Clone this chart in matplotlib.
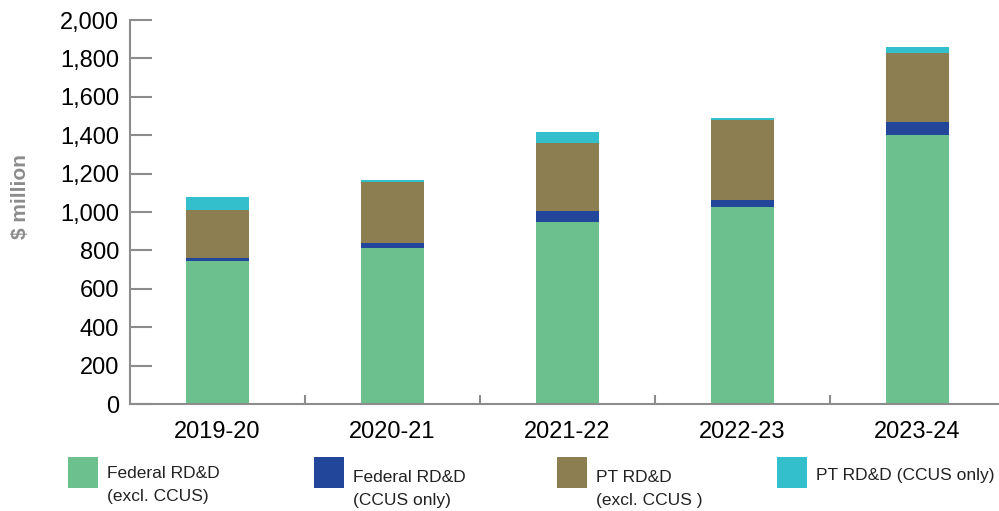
import numpy as np
import matplotlib
matplotlib.use("Agg")
import matplotlib.pyplot as plt
from matplotlib.patches import Rectangle

plt.rcParams['font.family'] = ['Liberation Sans Narrow', 'Liberation Sans', 'DejaVu Sans']

years = ["2019-20", "2020-21", "2021-22", "2022-23", "2023-24"]
federal_excl = [745, 812, 948, 1026, 1401]
federal_ccus = [15, 27, 57, 36, 68]
pt_excl = [250, 317, 354, 417, 359]
pt_ccus = [68, 11, 58, 11, 31]

series = [
    ("Federal RD&D\n(excl. CCUS)", federal_excl, "#6cc08e"),
    ("Federal RD&D\n(CCUS only)", federal_ccus, "#21469a"),
    ("PT RD&D\n(excl. CCUS )", pt_excl, "#8d7e52"),
    ("PT RD&D (CCUS only)", pt_ccus, "#33bfcc"),
]

axis_grey = "#8c8c8c"

fig = plt.figure(figsize=(9.99, 5.11), dpi=100)
ax = fig.add_axes([130 / 999, 107 / 511, 869 / 999, 384 / 511])

x = np.arange(len(years))
bottom = np.zeros(len(years))
for label, vals, color in series:
    ax.bar(x, vals, width=0.36, bottom=bottom, color=color, linewidth=0, zorder=2)
    bottom += np.array(vals)

ax.set_xlim(-0.5, 4.5 - 6 / 175)
ax.set_ylim(0, 2000)
ax.set_yticks(np.arange(0, 2001, 200))
ax.set_yticklabels([f"{v:,}" for v in range(0, 2001, 200)])

# category labels in the middle, tick marks at the boundaries
ax.set_xticks(x)
ax.set_xticklabels(years)
ax.set_xticks(np.arange(0.5, 4.0, 1.0), minor=True)
ax.tick_params(axis='x', which='major', length=0, labelsize=17, pad=12, colors='black')
ax.tick_params(axis='x', which='minor', direction='in', length=6.5, width=1.5, color=axis_grey)
ax.tick_params(axis='y', direction='in', length=16, width=1.5, color=axis_grey,
               labelsize=17, pad=8, labelcolor='black')

for side in ['top', 'right']:
    ax.spines[side].set_visible(False)
for side in ['left', 'bottom']:
    ax.spines[side].set_color(axis_grey)
    ax.spines[side].set_linewidth(1.5)

fig.text(20 / 999, 1 - 197 / 511, "$ million", rotation=90, ha='center', va='center',
         fontsize=15, fontweight='bold', color='#8c8c8c')

# legend drawn by hand to follow the original layout
patch_x = [68, 314, 557, 777]
baseline_y = [478, 482, 482, 480]
for (label, vals, color), px, by in zip(series, patch_x, baseline_y):
    fig.add_artist(Rectangle((px / 999, 1 - 488 / 511), 30 / 999, 31 / 511,
                             transform=fig.transFigure, color=color, linewidth=0))
    for i, line in enumerate(label.split("\n")):
        fig.text((px + 39) / 999, 1 - (by + 23 * i) / 511, line, ha='left', va='baseline',
                 fontsize=12.5, color='#222222')

fig.savefig("out.png", dpi=100)
